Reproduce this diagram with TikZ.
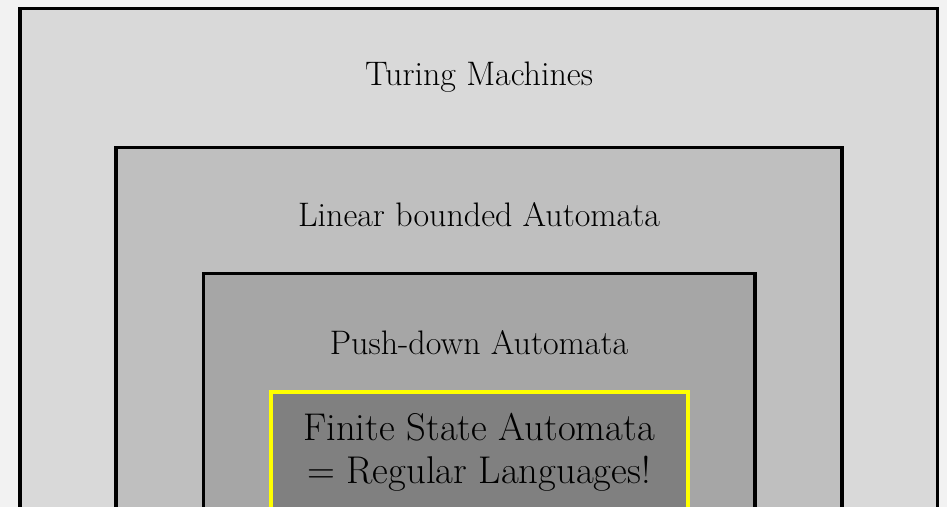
\documentclass[tikz,border=0pt]{standalone}
\usetikzlibrary{calc}
\definecolor{pagebg}{RGB}{242,242,242}
\definecolor{tmfill}{RGB}{217,217,217}
\definecolor{lbafill}{RGB}{191,191,191}
\definecolor{pdafill}{RGB}{166,166,166}
\definecolor{fsafill}{RGB}{128,128,128}
\definecolor{fsaedge}{RGB}{255,255,0}

\begin{document}
\begin{tikzpicture}[x=0.75pt,y=-0.75pt,
		level/.style={draw=black,line width=2.8pt},
		levellabel/.style={font=\fontsize{25.5}{30}\selectfont,inner sep=0pt},
		fsalabel/.style={font=\fontsize{29}{32}\selectfont,align=center,inner sep=0pt}]
			\fill[pagebg] (0,0) rectangle (947,507);
			\useasboundingbox (0,0) rectangle (947,507);
			\clip (0,0) rectangle (947,507);
			\filldraw[level,fill=tmfill] (20,8.5) rectangle (937.5,540);
			\node[levellabel] (tm) at (479,77) {Turing Machines};
			\filldraw[level,fill=lbafill] (116,147.5) rectangle (842,540);
			\node[levellabel] (lba) at (479,215) {Linear bounded Automata};
			\filldraw[level,fill=pdafill] (203.5,273.5) rectangle (755,540);
			\node[levellabel] (pda) at (479,343) {Push-down Automata};
			\filldraw[level,draw=fsaedge,fill=fsafill] (271,392) rectangle (688,540);
			\node[fsalabel] (fsa) at (479,452) {Finite State Automata\\= Regular Languages!};
		\end{tikzpicture}
\end{document}
